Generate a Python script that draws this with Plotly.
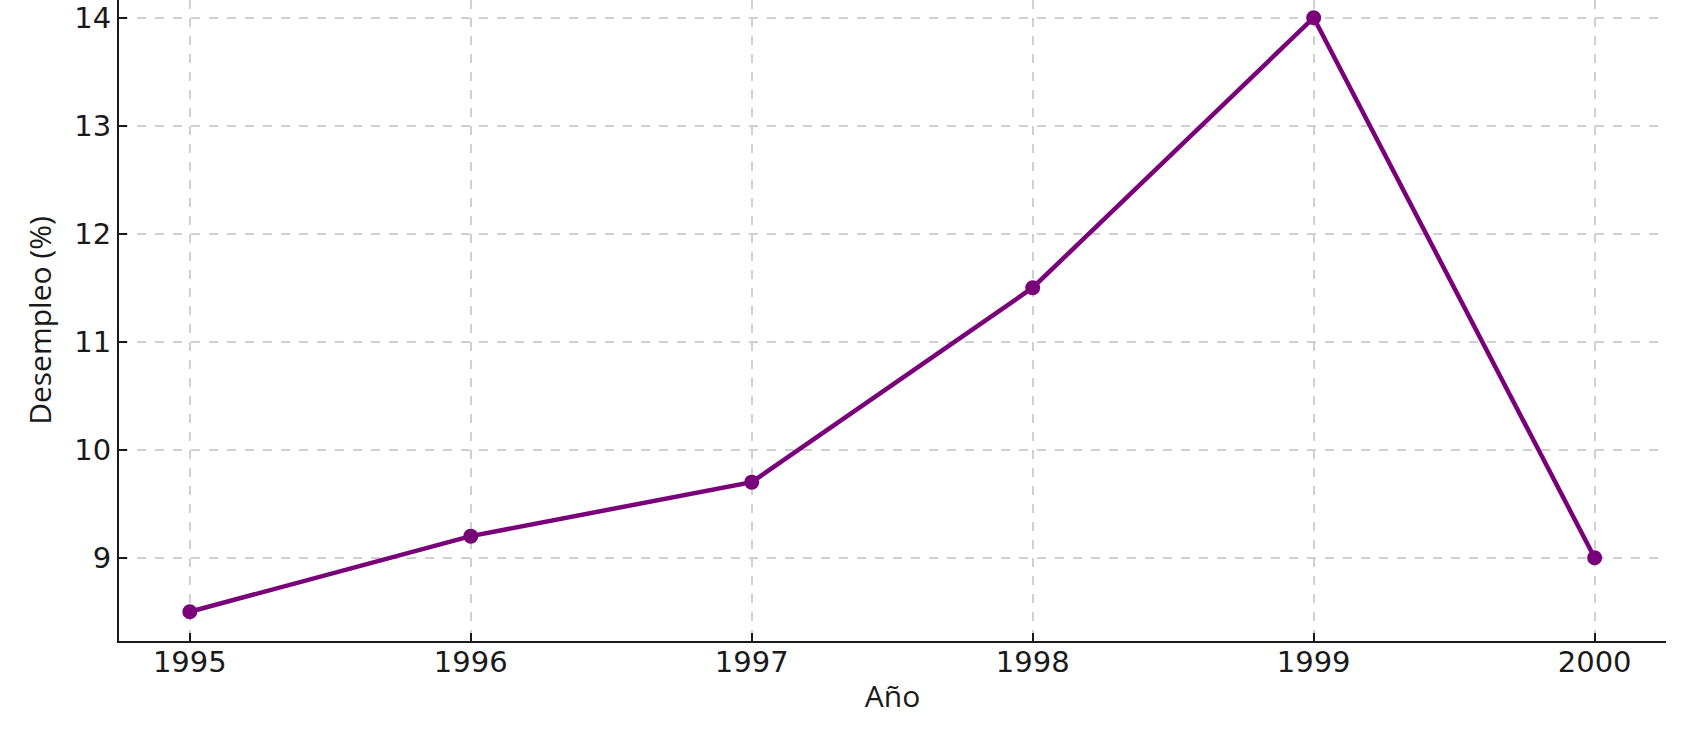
import plotly.graph_objects as go

years = [1995, 1996, 1997, 1998, 1999, 2000]
desempleo = [8.5, 9.2, 9.7, 11.5, 14.0, 9.0]
x_ticks = [1995, 1996, 1997, 1998, 1999, 2000]
y_ticks = [9, 10, 11, 12, 13, 14]

fig = go.Figure()
fig.add_trace(go.Scatter(
    x=years, y=desempleo, mode="lines+markers",
    line=dict(color="#7a007a", width=4.5),
    marker=dict(color="#7a007a", size=15),
))

tickfont = dict(family="DejaVu Sans", size=29, color="#1a1a1a")
titlefont = dict(family="Open Sans", size=30, color="#1a1a1a")

fig.update_layout(
    width=1693, height=736,
    margin=dict(l=119, r=27, t=0, b=95),
    paper_bgcolor="white", plot_bgcolor="white",
    showlegend=False,
    xaxis=dict(
        range=[1994.748, 2000.254], tickvals=x_ticks, ticktext=[str(v) for v in x_ticks],
        tickfont=tickfont, ticks="inside", ticklen=8, tickwidth=1.5, tickcolor="#1a1a1a",
        ticklabelstandoff=-6,
        showline=True, linecolor="#1a1a1a", linewidth=2,
        showgrid=True, gridcolor="#d0d0d0", griddash="dash", gridwidth=1.5,
        zeroline=False,
        title=dict(text="Año", font=titlefont, standoff=8),
    ),
    yaxis=dict(
        range=[8.229, 14.164], tickvals=y_ticks, ticktext=[str(v) for v in y_ticks],
        tickfont=tickfont, ticks="inside", ticklen=8, tickwidth=1.5, tickcolor="#1a1a1a",
        showline=True, linecolor="#1a1a1a", linewidth=2,
        showgrid=True, gridcolor="#d0d0d0", griddash="dash", gridwidth=1.5,
        zeroline=False,
        title=dict(text="Desempleo (%)", font=titlefont, standoff=14),
    ),
)

fig.write_html("out.html")
